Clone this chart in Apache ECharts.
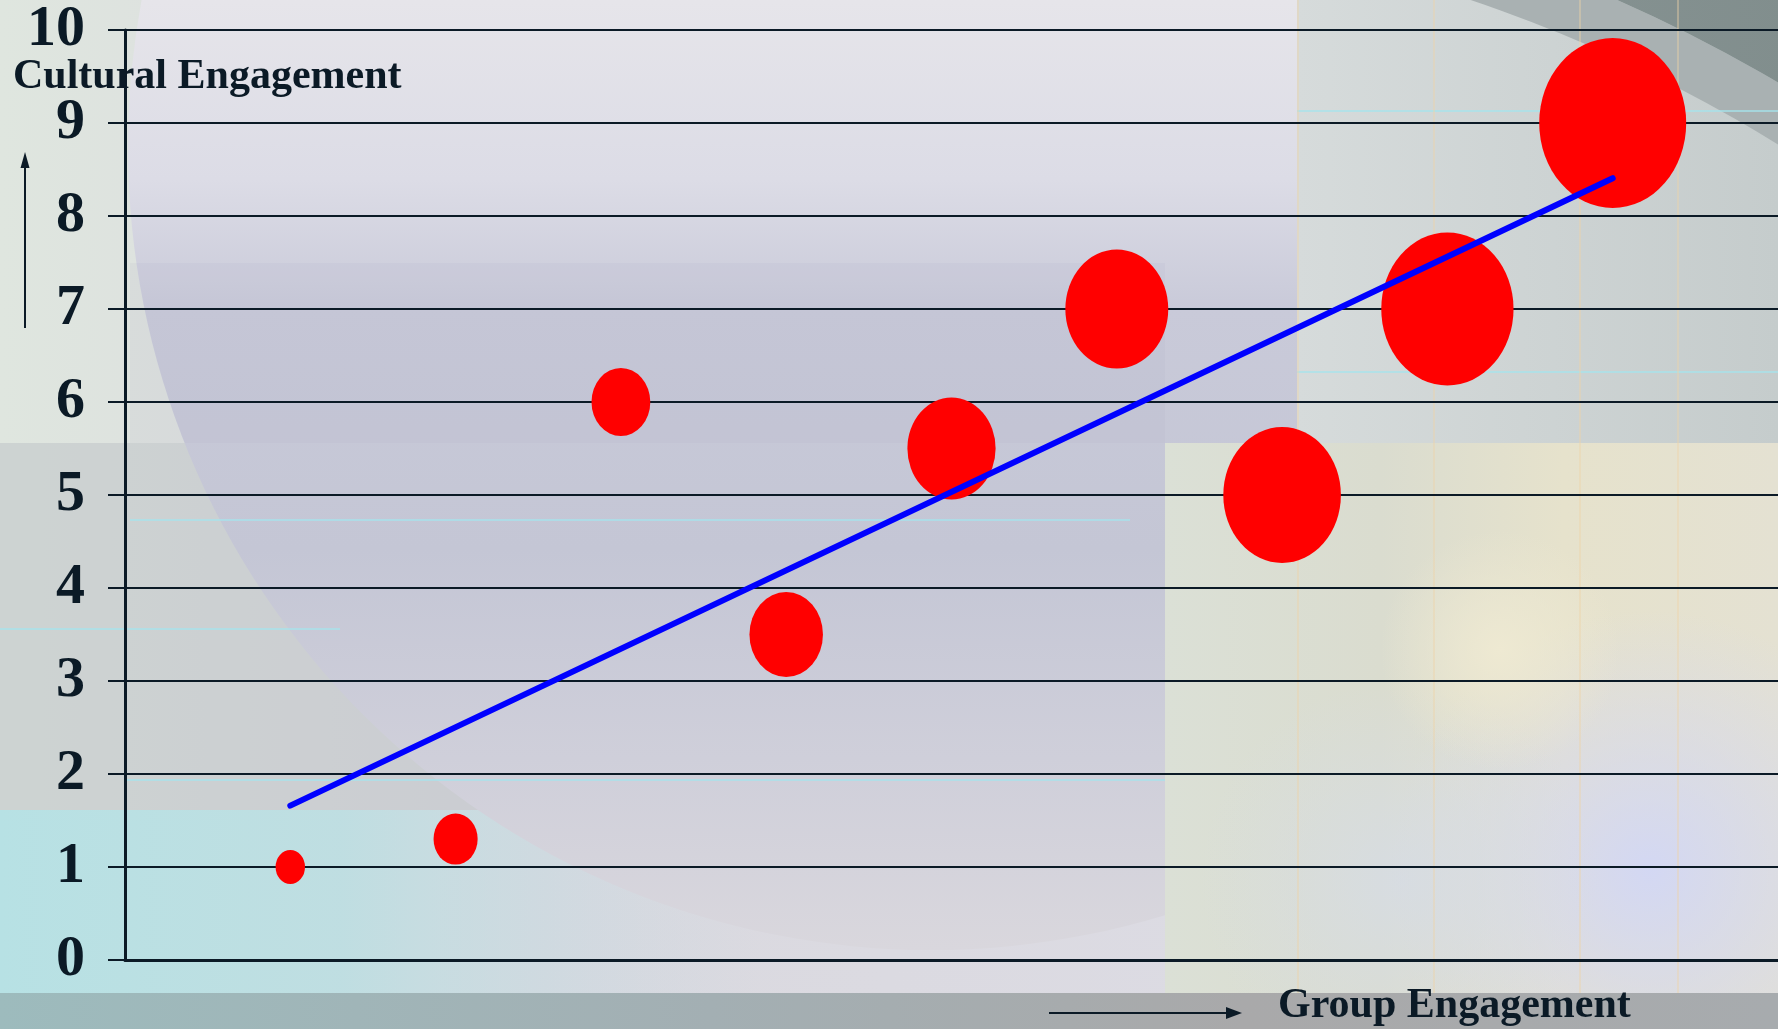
<!DOCTYPE html>
<html>
<head>
<meta charset="utf-8">
<title>Cultural vs Group Engagement</title>
<script src="https://cdn.jsdelivr.net/npm/echarts@6/dist/echarts.min.js"></script>
<style>
  html, body { margin: 0; padding: 0; }
  #chart { width: 1778px; height: 1029px; }
</style>
</head>
<body>
<div id="chart"></div>
<script>
// group engagement (x), cultural engagement (y), bubble size
const groupEngagement = [1, 2, 3, 4, 5, 6, 7, 8, 9];
const culturalEngagement = [1, 1.3, 6, 3.5, 5.5, 7, 5, 7, 9];
const bubbleSize = [2, 3, 4, 5, 6, 7, 8, 9, 10];
const yTicks = [0, 1, 2, 3, 4, 5, 6, 7, 8, 9, 10];

const ink = '#0b1a26';
const serif = '"Liberation Serif", "Times New Roman", serif';

// least squares trend line through the bubbles
const n = groupEngagement.length;
const mx = groupEngagement.reduce((a, b) => a + b, 0) / n;
const my = culturalEngagement.reduce((a, b) => a + b, 0) / n;
let sxy = 0, sxx = 0;
for (let i = 0; i < n; i++) {
  sxy += (groupEngagement[i] - mx) * (culturalEngagement[i] - my);
  sxx += (groupEngagement[i] - mx) ** 2;
}
const slope = sxy / sxx;
const icpt = my - slope * mx;
const x0 = groupEngagement[0], x1 = groupEngagement[n - 1];
const trend = [[x0, icpt + slope * x0], [x1, icpt + slope * x1]];

const bubbles = groupEngagement.map((x, i) => [x, culturalEngagement[i], bubbleSize[i]]);

const chart = echarts.init(document.getElementById('chart'));

const lin = (x0, y0, x1, y1, stops) => new echarts.graphic.LinearGradient(x0, y0, x1, y1,
  stops.map((c) => ({ offset: c[0], color: c[1] })));
const glow = (c0, c1) => new echarts.graphic.RadialGradient(0.5, 0.5, 0.5, [
  { offset: 0, color: c0 }, { offset: 1, color: c1 }]);

const bg = [
  { type: 'rect', shape: { x: 0, y: 0, width: 1778, height: 1029 },
    style: { fill: lin(0, 0, 1, 0, [[0, '#dfe6df'], [0.3, '#dad9df'], [0.7, '#dcdbe3'], [1, '#d5d9da']]) } },
  { type: 'rect', shape: { x: 0, y: 443, width: 1778, height: 367 },
    style: { fill: 'rgba(185,188,196,0.45)' } },
  { type: 'rect', shape: { x: 0, y: 810, width: 760, height: 183 },
    style: { fill: lin(0, 0, 1, 0, [[0, '#b7e1e4'], [0.45, 'rgba(186,222,226,0.85)'], [1, 'rgba(200,215,225,0)']]) } },
  { type: 'circle', shape: { cx: 931, cy: 147, r: 803 },
    style: { fill: lin(0, 0, 0, 1, [[0, '#ececf2'], [0.41, '#e6e5ea'], [0.52, '#dcdce6'], [0.6, '#c9cad9'], [0.75, '#c4c6d5'], [0.88, '#cfcfda'], [1, '#d9d7dd']]) } },
  { type: 'rect', shape: { x: 130, y: 263, width: 1035, height: 180 },
    style: { fill: 'rgba(170,172,200,0.12)' } },
  { type: 'rect', shape: { x: 1297, y: 0, width: 481, height: 443 },
    style: { fill: lin(0, 0, 1, 0, [[0, '#d6dbdb'], [1, '#c5cccc']]) } },
  { type: 'rect', shape: { x: 1165, y: 443, width: 613, height: 550 },
    style: { fill: lin(0, 0, 1, 0, [[0, '#dbe0d6'], [0.35, '#dadccf'], [0.65, '#e6e2cc'], [1, '#e4e1d2']]) } },
  { type: 'circle', shape: { cx: 1650, cy: 870, r: 260 },
    style: { fill: glow('rgba(210,215,245,0.95)', 'rgba(210,215,245,0)') } },
  { type: 'circle', shape: { cx: 1400, cy: 880, r: 200 },
    style: { fill: glow('rgba(214,220,230,0.8)', 'rgba(214,220,230,0)') } },
  { type: 'circle', shape: { cx: 1500, cy: 650, r: 120 },
    style: { fill: glow('rgba(238,233,210,1)', 'rgba(238,233,210,0)') } },
  { type: 'sector', shape: { cx: 1000, cy: 1400, r0: 1477, r: 1530, startAngle: -1.40, endAngle: -0.70 },
    style: { fill: '#a9b1b2' } },
  { type: 'sector', shape: { cx: 1000, cy: 1400, r0: 1530, r: 2600, startAngle: -1.40, endAngle: -0.70 },
    style: { fill: lin(0, 0, 1, 0, [[0, '#8a9696'], [1, '#6d7c79']]) } },
  { type: 'rect', shape: { x: 0, y: 993, width: 1778, height: 36 },
    style: { fill: lin(0, 0, 1, 0, [[0, '#9dbbbd'], [0.4, '#a3afb3'], [0.7, '#a9a9aa'], [1, '#a7abae']]) } }
];
[[1297, 1778, 111], [1297, 1778, 372], [130, 1130, 520], [0, 340, 629], [125, 1165, 780]].forEach(l => {
  bg.push({ type: 'line', shape: { x1: l[0], y1: l[2], x2: l[1], y2: l[2] },
    style: { stroke: 'rgba(165,228,236,0.7)', lineWidth: 2 } });
});
[1298, 1434, 1580, 1678].forEach(x => {
  bg.push({ type: 'line', shape: { x1: x, y1: 0, x2: x, y2: 993 },
    style: { stroke: 'rgba(238,212,170,0.55)', lineWidth: 1.5 } });
});
bg.forEach(e => { e.z = -10; e.silent = true; });

const deco = [
  { type: 'text', x: 13, y: 77,
    style: { text: 'Cultural Engagement', font: 'bold 42px ' + serif, fill: ink, verticalAlign: 'middle' } },
  { type: 'text', x: 1278, y: 1006,
    style: { text: 'Group Engagement', font: 'bold 42px ' + serif, fill: ink, verticalAlign: 'middle' } },
  { type: 'line', shape: { x1: 25, y1: 328, x2: 25, y2: 164 }, style: { stroke: ink, lineWidth: 2 } },
  { type: 'polygon', shape: { points: [[25, 152], [20.5, 168], [29.5, 168]] }, style: { fill: ink } },
  { type: 'line', shape: { x1: 1049, y1: 1013, x2: 1228, y2: 1013 }, style: { stroke: ink, lineWidth: 2 } },
  { type: 'polygon', shape: { points: [[1242, 1013], [1226, 1007], [1226, 1019]] }, style: { fill: ink } }
];
deco.forEach(e => { e.z = 100; });

chart.setOption({
  animation: false,
  graphic: { elements: bg.concat(deco) },
  grid: { left: 125, right: 0, top: 30, bottom: 69, outerBoundsMode: 'none' },
  xAxis: {
    type: 'value', min: 0, max: 10,
    axisLine: { show: true, lineStyle: { color: ink, width: 3 } },
    axisTick: { show: false },
    axisLabel: { show: false },
    splitLine: { show: false }
  },
  yAxis: {
    type: 'value', min: yTicks[0], max: yTicks[yTicks.length - 1], interval: 1,
    axisLine: { show: true, lineStyle: { color: ink, width: 3 } },
    axisTick: { show: true, length: 17, lineStyle: { color: ink, width: 2 } },
    axisLabel: { color: ink, fontFamily: serif, fontWeight: 'bold', fontSize: 58, margin: 40 },
    splitLine: { show: true, lineStyle: { color: ink, width: 2 } }
  },
  series: [
    {
      type: 'scatter',
      data: bubbles,
      symbol: 'circle',
      symbolSize: (v) => [v[2] * 14.7, v[2] * 17],
      itemStyle: { color: '#ff0000', opacity: 1 },
      z: 3
    },
    {
      type: 'line',
      data: trend,
      symbol: 'none',
      lineStyle: { color: '#0000ff', width: 6, cap: 'round' },
      z: 4
    }
  ]
});
</script>
</body>
</html>
